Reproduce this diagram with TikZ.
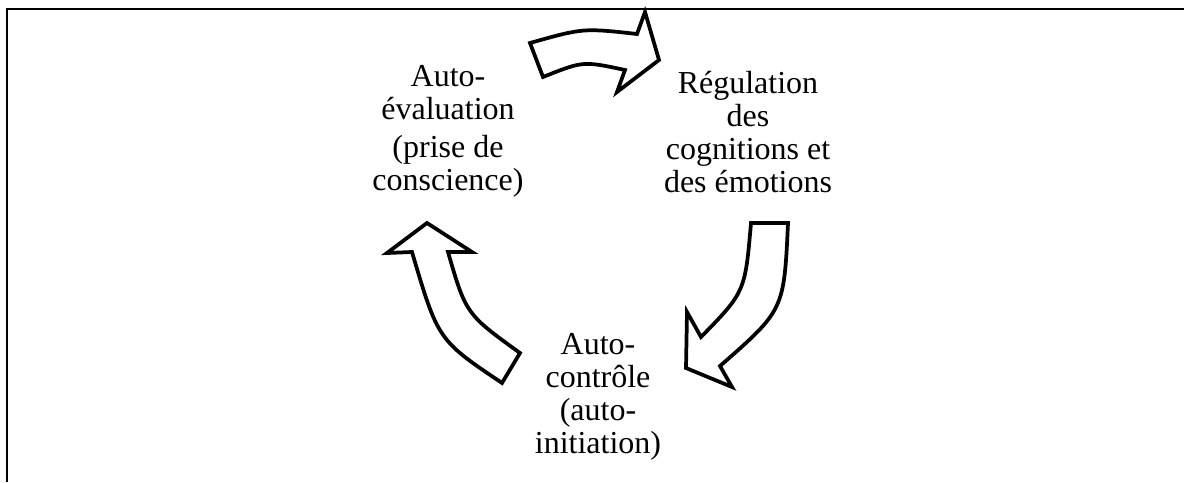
\documentclass[tikz,border=0pt]{standalone}
\usepackage{fontspec}
\setmainfont{Liberation Serif}
\tikzset{
  fleche/.style={draw=black, fill=white, line width=2.8pt, line join=miter},
  texte/.style={align=center, inner sep=0pt, anchor=base, font=\fontsize{24}{24.75}\selectfont},
  cadre/.style={draw=black, line width=1.5pt}
}
\begin{document}
\begin{tikzpicture}[x=0.75pt,y=-0.75pt]
\useasboundingbox (0,0) rectangle (1184,482);
%cadre ouvert en bas et a droite
\draw[cadre] (6.5,482) -- (6.5,8.5) -- (1184,8.5);

\node[texte] (autoeval) at (448,190) {Auto-\\évaluation\\[3.5pt](prise de\\conscience)};
\node[texte] (regulation) at (748,192) {Régulation\\des\\cognitions et\\des émotions};
\node[texte] (autocontrole) at (598,453) {Auto-\\contrôle\\(auto-\\initiation)};

%fleche du haut
\draw[fleche] (530,43) .. controls (583,28) .. (637,34) -- (645,12) -- (659,60) -- (617,92) -- (625,70)
  .. controls (583,61) .. (543,77) -- cycle;
%fleche de droite
\draw[fleche] (751,223) -- (788,223) .. controls (784,310) .. (720,366) -- (732,387) -- (686,368) -- (687,312)
  -- (701,337) .. controls (745,292) .. (751,223) -- cycle;
%fleche de gauche
\draw[fleche] (502,383) .. controls (438,340) .. (412,252) -- (387,253) -- (427,223) -- (472,252) -- (448,252)
  .. controls (466,314) .. (520,353) -- cycle;
\end{tikzpicture}
\end{document}
